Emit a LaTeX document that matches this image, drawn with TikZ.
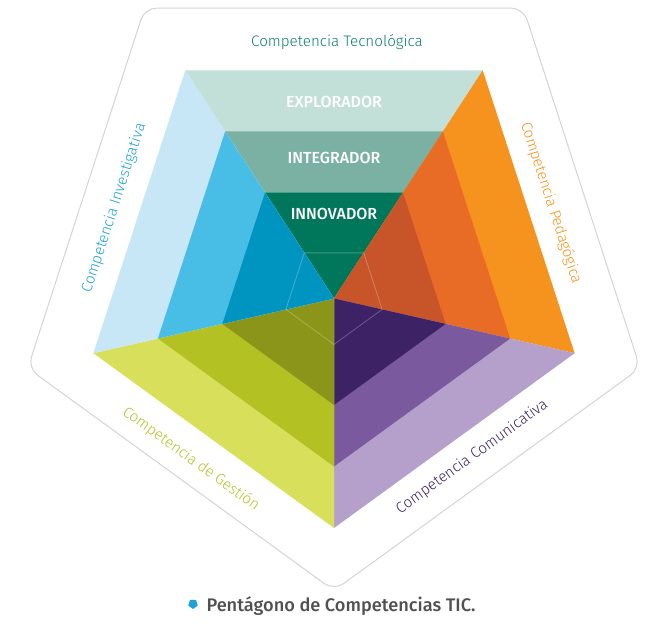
\documentclass[tikz,border=0pt]{standalone}
\usepackage{fontspec}
\setmainfont{Fira Sans}
\newfontfamily\lightf{Fira Sans Light}
\newfontfamily\medf{Fira Sans Medium}
\usetikzlibrary{calc,shapes.geometric}
\definecolor{tealL}{HTML}{C2E0D7}
\definecolor{tealM}{HTML}{7BB1A3}
\definecolor{tealD}{HTML}{00775B}
\definecolor{blueL}{HTML}{C7E6F6}
\definecolor{blueM}{HTML}{48BDE6}
\definecolor{blueD}{HTML}{0095C0}
\definecolor{orgL}{HTML}{F6921E}
\definecolor{orgM}{HTML}{E86C25}
\definecolor{orgD}{HTML}{C8552A}
\definecolor{purL}{HTML}{B4A0CA}
\definecolor{purM}{HTML}{7B599E}
\definecolor{purD}{HTML}{3D2266}
\definecolor{grnL}{HTML}{D8E05B}
\definecolor{grnM}{HTML}{B3C123}
\definecolor{grnD}{HTML}{8A9519}
\definecolor{txtTeal}{HTML}{127F70}
\definecolor{txtBlue}{HTML}{1BA3D9}
\definecolor{txtOrg}{HTML}{F7941D}
\definecolor{txtGrn}{HTML}{B5C327}
\definecolor{txtPur}{HTML}{3D2266}
\definecolor{capGray}{HTML}{505050}
\definecolor{frameGray}{HTML}{D4D4D4}
\newcommand\drawsector[5]{%
  \fill[#3] (P) -- (#1) -- (#2) -- cycle;
  \fill[#4] (P) -- ($(P)!0.732!(#1)$) -- ($(P)!0.732!(#2)$) -- cycle;
  \fill[#5] (P) -- ($(P)!0.464!(#1)$) -- ($(P)!0.464!(#2)$) -- cycle;}
\tikzset{
  comp/.style={font=\lightf\fontsize{15.2}{18}\selectfont, inner sep=0pt},
  level/.style={font=\medf\fontsize{16}{19}\selectfont, text=white, inner sep=0pt},
  frame/.style={draw=frameGray, line width=1pt, rounded corners=12pt},
  faint/.style={draw=white, draw opacity=0.25, line width=0.8pt}
}
\begin{document}
\begin{tikzpicture}[x=1pt,y=-1pt]
\useasboundingbox (0,0) rectangle (671,627);
\fill[white] (0,0) rectangle (671,627);
% outer frame
\coordinate (FA) at (144.7,8.1);
\coordinate (FB) at (523.3,8.1);
\coordinate (FC) at (640.2,368.1);
\coordinate (FD) at (334,590.6);
\coordinate (FE) at (27.8,368.1);
\draw[frame] (FA) -- (FB) -- (FC) -- (FD) -- (FE) -- cycle;
% colored pentagon
\coordinate (P) at (334,298.5);
\coordinate (A) at (185.3,70.3);
\coordinate (B) at (482.7,70.3);
\coordinate (C) at (574.6,353.2);
\coordinate (D) at (334,528);
\coordinate (E) at (93.4,353.2);
\drawsector{A}{B}{tealL}{tealM}{tealD}
\drawsector{B}{C}{orgL}{orgM}{orgD}
\drawsector{C}{D}{purL}{purM}{purD}
\drawsector{D}{E}{grnL}{grnM}{grnD}
\drawsector{E}{A}{blueL}{blueM}{blueD}
% faint inner pentagon
\draw[faint] ($(P)!0.2!(A)$) -- ($(P)!0.2!(B)$) -- ($(P)!0.2!(C)$) -- ($(P)!0.2!(D)$) -- ($(P)!0.2!(E)$) -- cycle;
% level labels
\node[level] (exp) at (334,102) {EXPLORADOR};
\node[level] (int) at (334,158) {INTEGRADOR};
\node[level] (inn) at (334,214) {INNOVADOR};
% competence labels
\node[comp, text=txtTeal] (tec) at (337,42) {Competencia Tecnológica};
\node[comp, text=txtBlue, rotate=72] (inv) at (114,208) {Competencia Investigativa};
\node[comp, text=txtOrg, rotate=-72] (ped) at (551,203) {Competencia Pedagógica};
\node[comp, text=txtGrn, rotate=-36] (ges) at (191,459) {Competencia de Gestión};
\node[comp, text=txtPur, rotate=36] (com) at (472,457) {Competencia Comunicativa};
% caption
\node[regular polygon, regular polygon sides=5, shape border rotate=180, fill=txtBlue, minimum size=10pt, inner sep=0pt] (bul) at (193,604) {};
\node[font=\medf\fontsize{18.2}{21}\selectfont, text=capGray, inner sep=0pt] (cap) at (341,606) {Pentágono de Competencias TIC.};
\end{tikzpicture}
\end{document}
